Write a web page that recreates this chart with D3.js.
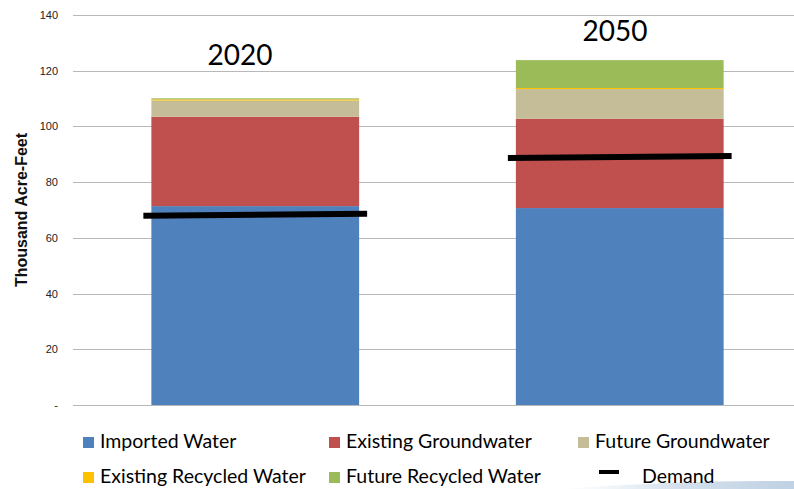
<!DOCTYPE html>
<html><head><meta charset="utf-8">
<script src="https://cdn.jsdelivr.net/npm/d3@7"></script>
<style>body{margin:0;background:#fff}svg{display:block}</style>
</head><body>
<script>
const years = ["2020", "2050"];
const seriesNames = ["Imported Water", "Existing Groundwater", "Future Groundwater", "Existing Recycled Water", "Future Recycled Water"];
const seriesColors = ["#4F81BD", "#C0504D", "#C4BD97", "#FFC000", "#9BBB59"];
const importedWater = [71.4, 70.7];
const existingGroundwater = [32.1, 32.1];
const futureGroundwater = [5.8, 10.6];
const existingRecycled = [0.4, 0.4];
const futureRecycled = [0.4, 10.0];
const demand = [68.3, 89.0];
const yTicks = [0, 20, 40, 60, 80, 100, 120, 140];

const W = 794, H = 489;
const svg = d3.select("body").append("svg").attr("width", W).attr("height", H);
const font = "Lato, 'Open Sans', sans-serif";

const defs = svg.append("defs");
const grad = defs.append("linearGradient").attr("id", "swoosh").attr("x1", "0").attr("x2", "1");
grad.append("stop").attr("offset", "0").attr("stop-color", "#dfe8f2").attr("stop-opacity", 0);
grad.append("stop").attr("offset", "0.5").attr("stop-color", "#c9d8e8").attr("stop-opacity", 0.8);
grad.append("stop").attr("offset", "1").attr("stop-color", "#b8cce0").attr("stop-opacity", 0.9);

const y = d3.scaleLinear().domain([0, 140]).range([405, 15]);
const x = d3.scaleBand().domain(years).range([73, 802]).paddingInner(0.43).paddingOuter(0.215);

// decorative swoosh at bottom right
svg.append("path").attr("d", "M560,489 Q680,480 794,481 L794,489 Z").attr("fill", "url(#swoosh)");

// gridlines
svg.append("g").selectAll("line").data(yTicks).join("line")
  .attr("x1", 73).attr("x2", 794)
  .attr("y1", d => Math.round(y(d)) + 0.5).attr("y2", d => Math.round(y(d)) + 0.5)
  .attr("stroke", "#b8b8b8").attr("stroke-width", 1);

// y axis labels
const yAxis = d3.axisLeft(y).tickValues(yTicks).tickSize(0).tickPadding(0)
  .tickFormat(d => d === 0 ? "-" : d);
const ga = svg.append("g").attr("transform", "translate(58,0)").call(yAxis);
ga.select(".domain").remove();
ga.selectAll("text").attr("font-family", "'Liberation Sans', Arial, sans-serif").attr("font-size", 11).attr("fill", "#222");

svg.append("text").attr("transform", "translate(27,210) rotate(-90)")
  .attr("text-anchor", "middle").attr("font-family", "'Liberation Sans', Arial, sans-serif")
  .attr("font-weight", "bold").attr("font-size", 16).attr("fill", "#111").text("Thousand Acre-Feet");

// stacked bars
const rows = years.map((yr, i) => ({
  year: yr,
  "Imported Water": importedWater[i],
  "Existing Groundwater": existingGroundwater[i],
  "Future Groundwater": futureGroundwater[i],
  "Existing Recycled Water": existingRecycled[i],
  "Future Recycled Water": futureRecycled[i]
}));
const stack = d3.stack().keys(seriesNames)(rows);
svg.append("g").selectAll("g").data(stack).join("g")
  .attr("fill", (d, i) => seriesColors[i])
  .selectAll("rect").data(d => d).join("rect")
  .attr("x", d => x(d.data.year))
  .attr("width", x.bandwidth())
  .attr("y", d => y(d[1]))
  .attr("height", d => y(d[0]) - y(d[1]));

// demand lines
svg.append("g").selectAll("line").data(years).join("line")
  .attr("x1", d => x(d) - 8).attr("x2", d => x(d) + x.bandwidth() + 8)
  .attr("y1", (d, i) => y(demand[i]) + 1).attr("y2", (d, i) => y(demand[i]) - 1)
  .attr("stroke", "#000").attr("stroke-width", 6);

// year labels
const yearLabelPos = [{ x: 240, yv: 122 }, { x: 615, yv: 130.5 }];
svg.append("g").selectAll("text").data(years).join("text")
  .attr("x", (d, i) => yearLabelPos[i].x).attr("y", (d, i) => y(yearLabelPos[i].yv))
  .attr("text-anchor", "middle").attr("font-family", font).attr("font-size", 28).attr("fill", "#000")
  .text(d => d);

// legend
const legendItems = [
  { name: "Imported Water", color: seriesColors[0], x: 83, y: 437 },
  { name: "Existing Groundwater", color: seriesColors[1], x: 329, y: 437 },
  { name: "Future Groundwater", color: seriesColors[2], x: 578, y: 437 },
  { name: "Existing Recycled Water", color: seriesColors[3], x: 83, y: 472 },
  { name: "Future Recycled Water", color: seriesColors[4], x: 329, y: 472 }
];
const lg = svg.append("g");
legendItems.forEach(it => {
  lg.append("rect").attr("x", it.x).attr("y", it.y).attr("width", 11).attr("height", 11).attr("fill", it.color);
  lg.append("text").attr("x", it.x + 17).attr("y", it.y + 11).attr("font-family", font).attr("font-size", 19.5).attr("fill", "#000").text(it.name);
});
lg.append("line").attr("x1", 599).attr("x2", 619).attr("y1", 472).attr("y2", 472).attr("stroke", "#000").attr("stroke-width", 4);
lg.append("text").attr("x", 642).attr("y", 483).attr("font-family", font).attr("font-size", 19.5).attr("fill", "#000").text("Demand");
</script>
</body></html>
